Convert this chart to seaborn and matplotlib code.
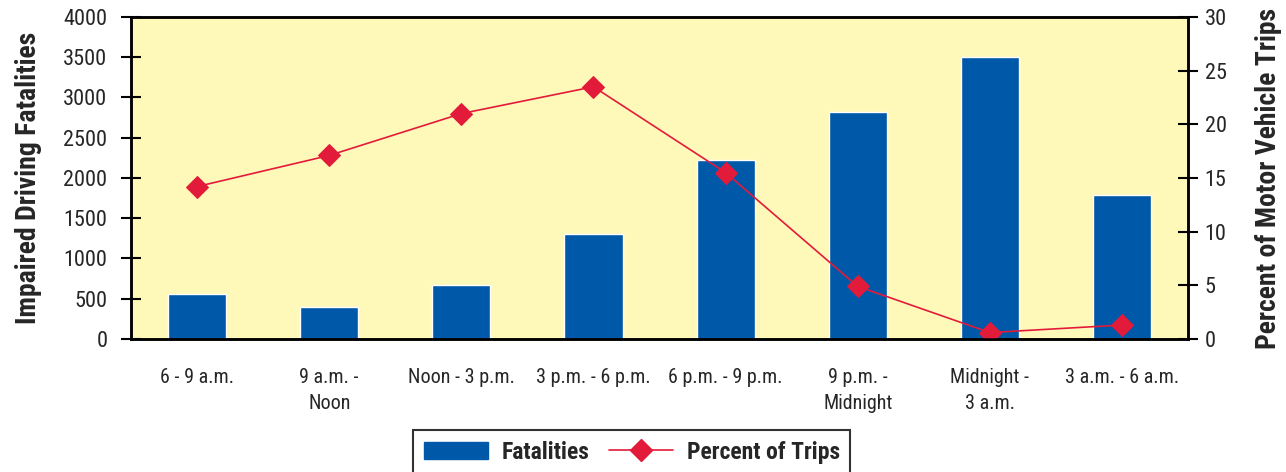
import numpy as np
import pandas as pd
import seaborn as sns
import matplotlib.pyplot as plt
from matplotlib.patches import Patch
from matplotlib.lines import Line2D
from matplotlib.ticker import FixedLocator, MultipleLocator

time_slots = ["6 - 9 a.m.", "9 a.m. -\nNoon", "Noon - 3 p.m.", "3 p.m. - 6 p.m.",
              "6 p.m. - 9 p.m.", "9 p.m. -\nMidnight", "Midnight -\n3 a.m.", "3 a.m. - 6 a.m."]
fatalities = [555, 400, 665, 1310, 2225, 2820, 3505, 1790]
pct_trips = [14.2, 17.1, 21.0, 23.5, 15.5, 4.9, 0.6, 1.3]

bar_color = "#0058A8"
line_color = "#E31B3A"
bg_color = "#FEF8B9"

sns.set_style("white")
plt.rcParams["font.family"] = ["Roboto Condensed", "Archivo Narrow", "DejaVu Sans"]

df = pd.DataFrame({"slot": time_slots, "fatalities": fatalities, "pct": pct_trips})

fig, ax = plt.subplots(figsize=(12.86, 4.72), dpi=100)
fig.subplots_adjust(left=0.1019, right=0.9238, top=0.964, bottom=0.2818)
ax.set_facecolor(bg_color)

sns.barplot(data=df, x="slot", y="fatalities", color=bar_color, width=0.44,
            saturation=1, ax=ax)
ax.set_xlim(-0.5, len(time_slots) - 0.5)
ax.set_ylim(0, 4000)
ax.yaxis.set_major_locator(MultipleLocator(500))

ax2 = ax.twinx()
sns.lineplot(data=df, x="slot", y="pct", color=line_color, marker="D", markersize=11,
             markeredgecolor=line_color, linewidth=1.2, sort=False, ax=ax2)
ax2.set_ylim(0, 30)
ax2.yaxis.set_major_locator(MultipleLocator(5))

# category labels centred, tick marks on the boundaries
ax.set_xticks(np.arange(len(time_slots)))
ax.set_xticklabels(time_slots, fontsize=14.5, linespacing=1.45)
ax.tick_params(axis="x", which="major", length=0, pad=21)
ax.xaxis.set_minor_locator(FixedLocator(np.arange(-0.5, len(time_slots), 1.0)))
ax.tick_params(axis="x", which="minor", direction="inout", length=14, width=1.5,
               color="black")

ax.tick_params(axis="y", direction="inout", length=14, width=1.5, labelsize=16,
               color="black", left=True, pad=10)
ax2.tick_params(axis="y", direction="inout", length=14, width=1.5, labelsize=16,
                color="black", right=True, pad=5)

for a in (ax, ax2):
    for s in a.spines.values():
        s.set_color("black")
        s.set_linewidth(1.8)

ax.set_xlabel("")
ax.set_ylabel("Impaired Driving Fatalities", fontsize=20, fontweight="bold", labelpad=15)
ax2.set_ylabel("Percent of Motor Vehicle Trips", fontsize=20, fontweight="bold",
               labelpad=20)

handles = [Patch(facecolor=bar_color, edgecolor=bar_color),
           Line2D([0], [0], color=line_color, marker="D", markersize=11, linewidth=1.2)]
leg = fig.legend(handles, ["Fatalities", "Percent of Trips"], loc="upper center",
                 bbox_to_anchor=(0.4914, 0.089), ncol=2, frameon=True, fancybox=False,
                 prop={"weight": "bold", "size": 17}, handlelength=2.7,
                 columnspacing=0.8, borderpad=0.45, handletextpad=0.6,
                 borderaxespad=0)
leg.get_frame().set_edgecolor("black")
leg.get_frame().set_linewidth(1.5)

fig.savefig("out.png", dpi=100, facecolor="white")
